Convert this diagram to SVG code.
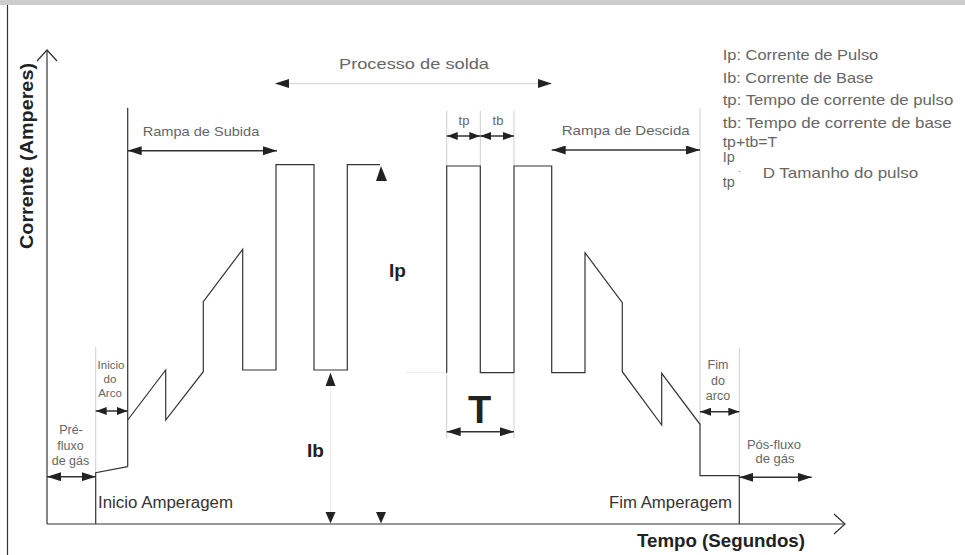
<svg xmlns="http://www.w3.org/2000/svg" width="965" height="555" viewBox="0 0 965 555">
<defs>
<marker id="ah" viewBox="0 0 14 9" refX="14" refY="4.5" markerWidth="14" markerHeight="9" markerUnits="userSpaceOnUse" orient="auto-start-reverse"><path d="M0,0 L14,4.5 L0,9 Z" fill="#222"/></marker>
<marker id="as" viewBox="0 0 11 8" refX="11" refY="4" markerWidth="11" markerHeight="8" markerUnits="userSpaceOnUse" orient="auto-start-reverse"><path d="M0,0 L11,4 L0,8 Z" fill="#222"/></marker>
</defs>
<style>
.w{fill:none;stroke:#333;stroke-width:1.2}
.g{fill:none;stroke:#cfcfcf;stroke-width:1}
.gf{fill:none;stroke:#ececec;stroke-width:1}
.ar{stroke:#333;stroke-width:1.5;marker-start:url(#ah);marker-end:url(#ah)}
.arl{stroke:#dcdcdc;stroke-width:1.5;marker-start:url(#ah);marker-end:url(#ah)}
.as{stroke:#333;stroke-width:1.5;marker-start:url(#as);marker-end:url(#as)}
.tri{fill:#222}
.t{font-family:"Liberation Sans",Arial,sans-serif;fill:#666}
.b{font-family:"Liberation Sans",Arial,sans-serif;font-weight:bold;fill:#222}
.n{font-family:"Liberation Sans",Arial,sans-serif;fill:#333}
</style>
<rect x="0" y="0" width="965" height="555" fill="#fff"/>
<rect x="0" y="0" width="965" height="5" fill="#cdcdcd"/>
<line x1="7.5" y1="5" x2="7.5" y2="555" stroke="#333" stroke-width="1.2"/>

<g id="axes">
<line class="w" x1="47" y1="50" x2="47" y2="524"/>
<polyline class="w" points="37,61 47,50 57,61"/>
<line class="w" x1="47" y1="524" x2="845" y2="524"/>
<polyline class="w" points="834,514 845,524 834,534"/>
<text class="b" transform="translate(33,156) rotate(-90)" text-anchor="middle" font-size="18.5" textLength="186" lengthAdjust="spacingAndGlyphs">Corrente (Amperes)</text>
<text class="b" x="637" y="547" font-size="18" textLength="168" lengthAdjust="spacingAndGlyphs">Tempo (Segundos)</text>
</g>

<g id="connectors">
<line class="g" x1="95.7" y1="347" x2="95.7" y2="472.7"/>
<line class="gf" x1="330.5" y1="386" x2="330.5" y2="512"/>
<line class="g" x1="446.7" y1="110.7" x2="446.7" y2="166"/>
<line class="g" x1="480.3" y1="110.7" x2="480.3" y2="166"/>
<line class="g" x1="514" y1="110.7" x2="514" y2="166"/>
<line class="g" x1="446.7" y1="372.7" x2="446.7" y2="438"/>
<line class="g" x1="514" y1="372.7" x2="514" y2="438"/>
<line class="g" x1="700" y1="108" x2="700" y2="424"/>
<line class="g" x1="739.3" y1="348" x2="739.3" y2="475.7"/>
<line class="gf" x1="406" y1="372.7" x2="446.7" y2="372.7"/>
<path class="w" d="M95.7,524 V472.7 L127.7,466.7"/>
<line class="w" x1="127.7" y1="107.7" x2="127.7" y2="466.7"/>
<path class="w" d="M127.7,420 L165.7,370 V420 L203.3,371.7 V301.7 L242.7,249.3 V370 H276 V164.7 H314 V370 H347.3 V164.7 H380"/>
<path class="w" d="M446.7,372.7 V166 H480.3 V372.7 H514 V166 H551.7 V372.7 H585 V252.7 L622.3,302.7 V371.7 L661.7,425 V373.3 L700,424.3 V475.7 H739.3 V524"/>
<line class="ar" x1="47" y1="476.7" x2="95.7" y2="476.7"/>
<line class="as" x1="95.7" y1="411" x2="127.7" y2="411"/>
<line class="ar" x1="127.7" y1="150.7" x2="277" y2="150.7"/>
<line class="arl" x1="275" y1="83.5" x2="551.7" y2="83.5"/>
<line class="as" x1="446.7" y1="136" x2="480.3" y2="136"/>
<line class="as" x1="480.3" y1="136" x2="514" y2="136"/>
<line class="ar" x1="551.7" y1="150" x2="700" y2="150"/>
<line class="ar" x1="446.7" y1="431.7" x2="514" y2="431.7"/>
<line class="as" x1="700" y1="411.7" x2="739.3" y2="411.7"/>
<line class="ar" x1="739.3" y1="477.3" x2="811.7" y2="477.3"/>
<path class="tri" d="M381,166 L376,181 L387,181 Z"/>
<path class="tri" d="M330.5,372.7 L325.5,386 L335.5,386 Z"/>
<path class="tri" d="M330.5,523.5 L325.5,512 L335.5,512 Z"/>
<path class="tri" d="M381,523.5 L376,512 L386,512 Z"/>
</g>

<g id="labels">
<text class="b" x="389" y="277" font-size="19">Ip</text>
<text class="b" x="307" y="457" font-size="19">Ib</text>
<text class="b" x="468" y="423" font-size="38">T</text>
<text class="n" x="98" y="508" font-size="16" textLength="135" lengthAdjust="spacingAndGlyphs">Inicio Amperagem</text>
<text class="n" x="609" y="508" font-size="16" textLength="123" lengthAdjust="spacingAndGlyphs">Fim Amperagem</text>
<text class="t" x="142.7" y="136" font-size="13" textLength="116.6" lengthAdjust="spacingAndGlyphs">Rampa de Subida</text>
<text class="t" x="561.7" y="135" font-size="13" textLength="128" lengthAdjust="spacingAndGlyphs">Rampa de Descida</text>
<text class="t" x="339" y="69" font-size="15" textLength="150" lengthAdjust="spacingAndGlyphs">Processo de solda</text>
<text class="t" x="464" y="125" font-size="13" text-anchor="middle">tp</text>
<text class="t" x="498" y="125" font-size="13" text-anchor="middle">tb</text>
<g font-size="12.5" text-anchor="middle">
<text class="t" x="71" y="434">Pré-</text>
<text class="t" x="70.5" y="450">fluxo</text>
<text class="t" x="70.5" y="465">de gás</text>
</g>
<g font-size="11.5" text-anchor="middle">
<text class="t" x="111" y="369.3">Inicio</text>
<text class="t" x="110" y="383.3">do</text>
<text class="t" x="110" y="396.7">Arco</text>
</g>
<g font-size="12.5" text-anchor="middle">
<text class="t" x="718" y="369">Fim</text>
<text class="t" x="718" y="385">do</text>
<text class="t" x="718" y="400">arco</text>
</g>
<g font-size="13" text-anchor="middle">
<text class="t" x="774" y="449">Pós-fluxo</text>
<text class="t" x="775" y="463.3">de gás</text>
</g>
</g>

<g id="legend" font-size="14.5">
<text class="t" x="722.7" y="60" textLength="155.6" lengthAdjust="spacingAndGlyphs">Ip: Corrente de Pulso</text>
<text class="t" x="722.7" y="83.3" textLength="150.6" lengthAdjust="spacingAndGlyphs">Ib: Corrente de Base</text>
<text class="t" x="722.7" y="105" textLength="230.6" lengthAdjust="spacingAndGlyphs">tp: Tempo de corrente de pulso</text>
<text class="t" x="722.7" y="128.3" textLength="229" lengthAdjust="spacingAndGlyphs">tb: Tempo de corrente de base</text>
<text class="t" x="722.7" y="146.7" textLength="54.6" lengthAdjust="spacingAndGlyphs">tp+tb=T</text>
<text class="t" x="722.7" y="162">Ip</text>
<text class="t" x="722.7" y="186.7">tp</text>
<text class="t" x="738" y="172" font-size="9">.</text>
<text class="t" x="762.7" y="178.3" textLength="155.6" lengthAdjust="spacingAndGlyphs">D Tamanho do pulso</text>
</g>
</svg>
